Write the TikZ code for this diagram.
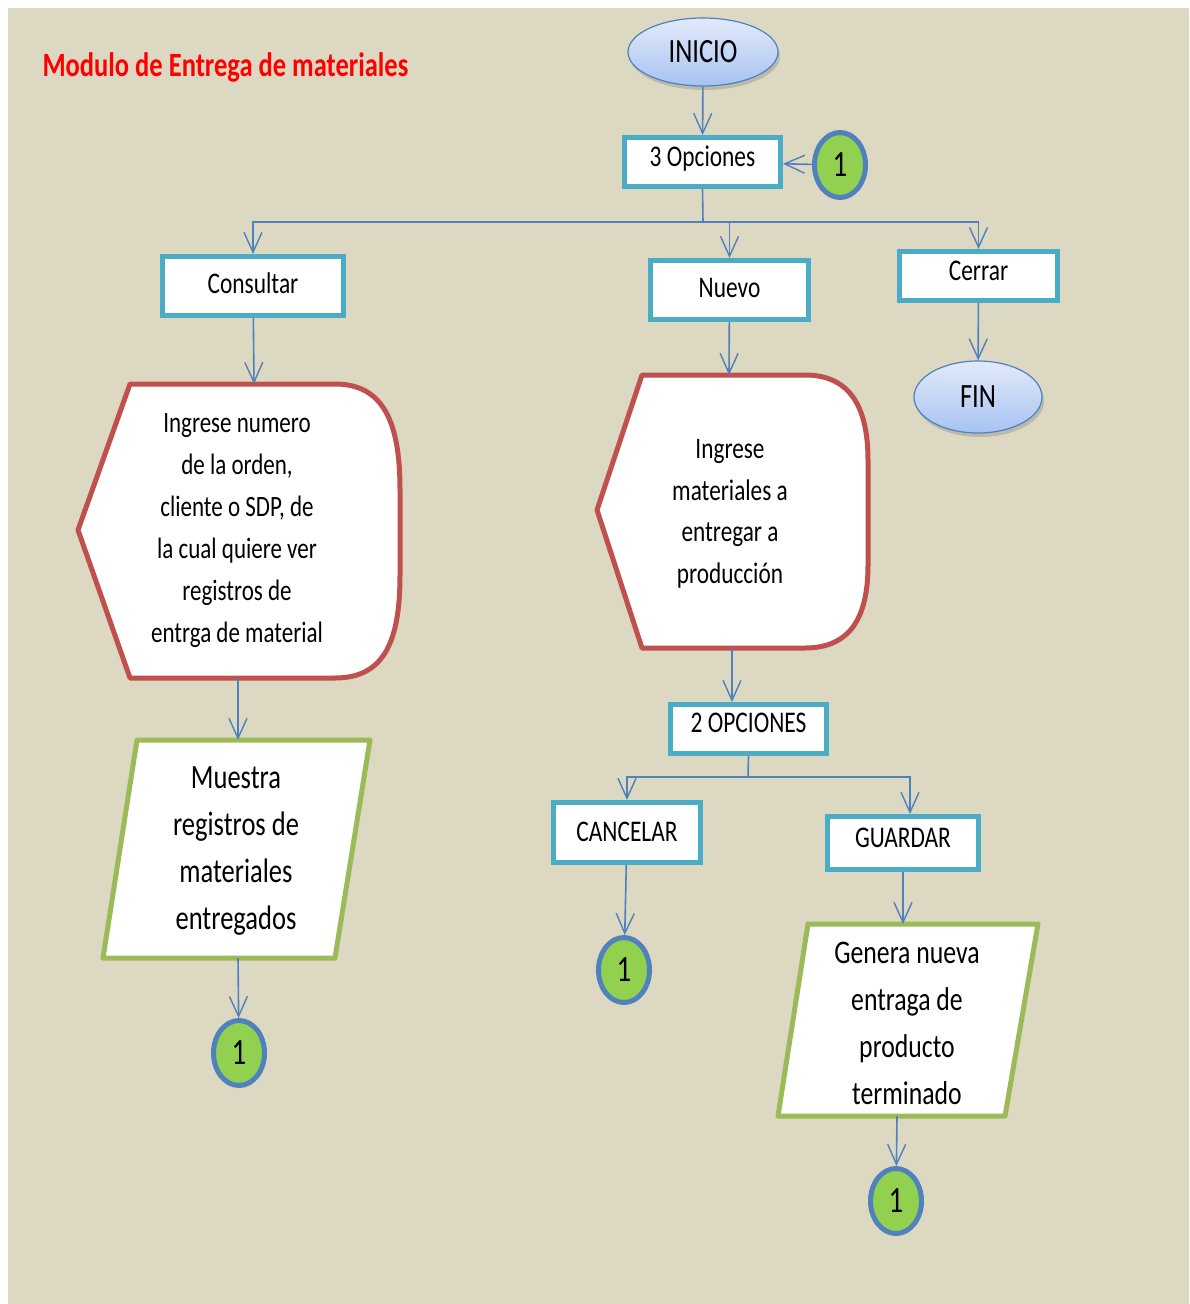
\documentclass[tikz,border=0pt]{standalone}
\usepackage{fontspec}
\setmainfont[FakeStretch=0.78]{Carlito}
\usetikzlibrary{arrows.meta,shapes.geometric,shadows}
\definecolor{bg}{HTML}{DDD8C2}
\definecolor{boxline}{HTML}{4BACC6}
\definecolor{link}{HTML}{4F81BD}
\definecolor{displine}{HTML}{C0504D}
\definecolor{ioline}{HTML}{9BBB59}
\definecolor{okgreen}{HTML}{92D050}
\definecolor{termtop}{HTML}{E2EAF9}
\definecolor{termbot}{HTML}{A7C3F2}
\tikzset{
  every node/.style={font=\fontsize{28}{42}\selectfont, text=black},
  procbox/.style={draw=boxline, line width=5pt, fill=white, rectangle,
    inner sep=0pt, align=center, font=\fontsize{30}{36}\selectfont,
    text height=21pt, text depth=12pt},
  lowtext/.style={text depth=6pt},
  term/.style={ellipse, draw=link, line width=1.2pt, inner sep=0pt,
    top color=termtop, bottom color=termbot,
    drop shadow={opacity=0.35, shadow xshift=2pt, shadow yshift=-4pt},
    font=\fontsize{34}{40}\selectfont},
  onpage/.style={ellipse, draw=link, line width=5pt, fill=okgreen,
    minimum width=51pt, minimum height=65pt, inner sep=0pt,
    font=\fontsize{37}{40}\selectfont},
  dispshape/.style={draw=displine, line width=5pt, fill=white, line join=round},
  ioshape/.style={draw=ioline, line width=5pt, fill=white, line join=round},
  flow/.style={draw=link, line width=1.6pt,
    -{Straight Barb[length=20pt, width=18pt, line width=1.4pt]}},
  bodytext/.style={align=center, inner sep=0pt},
}
\begin{document}
\begin{tikzpicture}[x=1pt, y=-1pt]
  % page and background
  \useasboundingbox (0,0) rectangle (1189,1304);
  \fill[white] (0,0) rectangle (1189,1304);
  \fill[bg] (8,8) rectangle (1189,1304);

  % title
  \node[anchor=west, text=red, font=\bfseries\fontsize{34}{40}\selectfont]
    (title) at (39,67) {Modulo de Entrega de materiales};

  % start / end
  \node[term, minimum width=150pt, minimum height=68pt] (inicio) at (703,52) {INICIO};
  \node[term, minimum width=128pt, minimum height=72pt] (fin) at (978,397) {FIN};

  % process boxes
  \node[procbox, minimum width=156pt, minimum height=49pt] (op3) at (702.5,162) {3 Opciones};
  \node[procbox, lowtext, minimum width=181pt, minimum height=59pt] (consultar) at (253,286) {Consultar};
  \node[procbox, lowtext, minimum width=158pt, minimum height=59pt] (nuevo) at (729.5,290) {Nuevo};
  \node[procbox, minimum width=158pt, minimum height=49pt] (cerrar) at (978.5,276) {Cerrar};
  \node[procbox, text depth=14pt, minimum width=156pt, minimum height=49pt] (opc2) at (748.5,729) {2 OPCIONES};
  \node[procbox, text depth=4pt, minimum width=147pt, minimum height=60pt] (cancelar) at (627,832.5) {CANCELAR};
  \node[procbox, minimum width=151pt, minimum height=53pt] (guardar) at (903,843) {GUARDAR};

  % on-page connectors
  \node[onpage] (c0) at (840,165) {1};
  \node[onpage] (c1) at (239,1053) {1};
  \node[onpage] (c2) at (624,970) {1};
  \node[onpage] (c3) at (896,1201) {1};

  % display shape: order lookup
  \draw[dispshape] (130,384) -- (335,384)
    .. controls (385,384) and (400,425) .. (400,490) -- (400,575)
    .. controls (400,640) and (385,678) .. (335,678)
    -- (130,678) -- (78,530) -- cycle;
  \coordinate (ingtop) at (254,384);
  \coordinate (ingbot) at (238,678);
  \node[bodytext, font=\fontsize{29.5}{42}\selectfont] (ing) at (237,531)
    {Ingrese numero\\de la orden,\\cliente o SDP, de\\la cual quiere ver\\registros de\\entrga de material};

  % display shape: new delivery
  \draw[dispshape] (642,375) -- (805,375)
    .. controls (852,375) and (868,410) .. (868,460) -- (868,565)
    .. controls (868,615) and (852,648) .. (805,648)
    -- (642,648) -- (597,510) -- cycle;
  \coordinate (nvtop) at (729,375);
  \coordinate (nvbot) at (732,648);
  \node[bodytext, font=\fontsize{29.8}{41.5}\selectfont] (nv) at (730,514)
    {Ingrese\\materiales a\\entregar a\\producción};

  % output: records shown
  \draw[ioshape] (137,740) -- (370,740) -- (335,958) -- (103,958) -- cycle;
  \coordinate (msttop) at (238,740);
  \coordinate (mstbot) at (238,958);
  \node[bodytext, font=\fontsize{34}{47}\selectfont] (mst) at (236,851)
    {Muestra\\registros de\\materiales\\entregados};

  % output: new delivery generated
  \draw[ioshape] (808,924) -- (1038,924) -- (1005,1116) -- (778,1116) -- cycle;
  \coordinate (gentop) at (903,924);
  \coordinate (genbot) at (897,1116);
  \node[bodytext, font=\fontsize{33}{47}\selectfont] (gen) at (907,1023)
    {Genera nueva\\entraga de\\producto\\terminado};

  % connectors
  \draw[flow] (inicio) -- (op3);
  \draw[flow] (c0) -- (op3);
  \coordinate (split3) at (703,222);
  \draw[flow] (op3.south) -- (split3) -| (consultar.north);
  \draw[flow] (split3) -| (nuevo.north);
  \draw[flow] (split3) -| (cerrar.north);
  \draw[flow] (cerrar) -- (fin);
  \draw[flow] (consultar) -- (ingtop);
  \draw[flow] (ingbot) -- (msttop);
  \draw[flow] (mstbot) -- (c1);
  \draw[flow] (nuevo) -- (nvtop);
  \draw[flow] (nvbot) -- (nvbot |- opc2.north);
  \coordinate (split2) at (748,777);
  \coordinate (guardin) at (910,814);
  \draw[flow] (opc2.south) -- (split2) -| (cancelar.north);
  \draw[flow] (split2) -| (guardin);
  \draw[flow] (cancelar) -- (c2);
  \draw[flow] (guardar) -- (gentop);
  \draw[flow] (genbot) -- (c3);
\end{tikzpicture}
\end{document}
